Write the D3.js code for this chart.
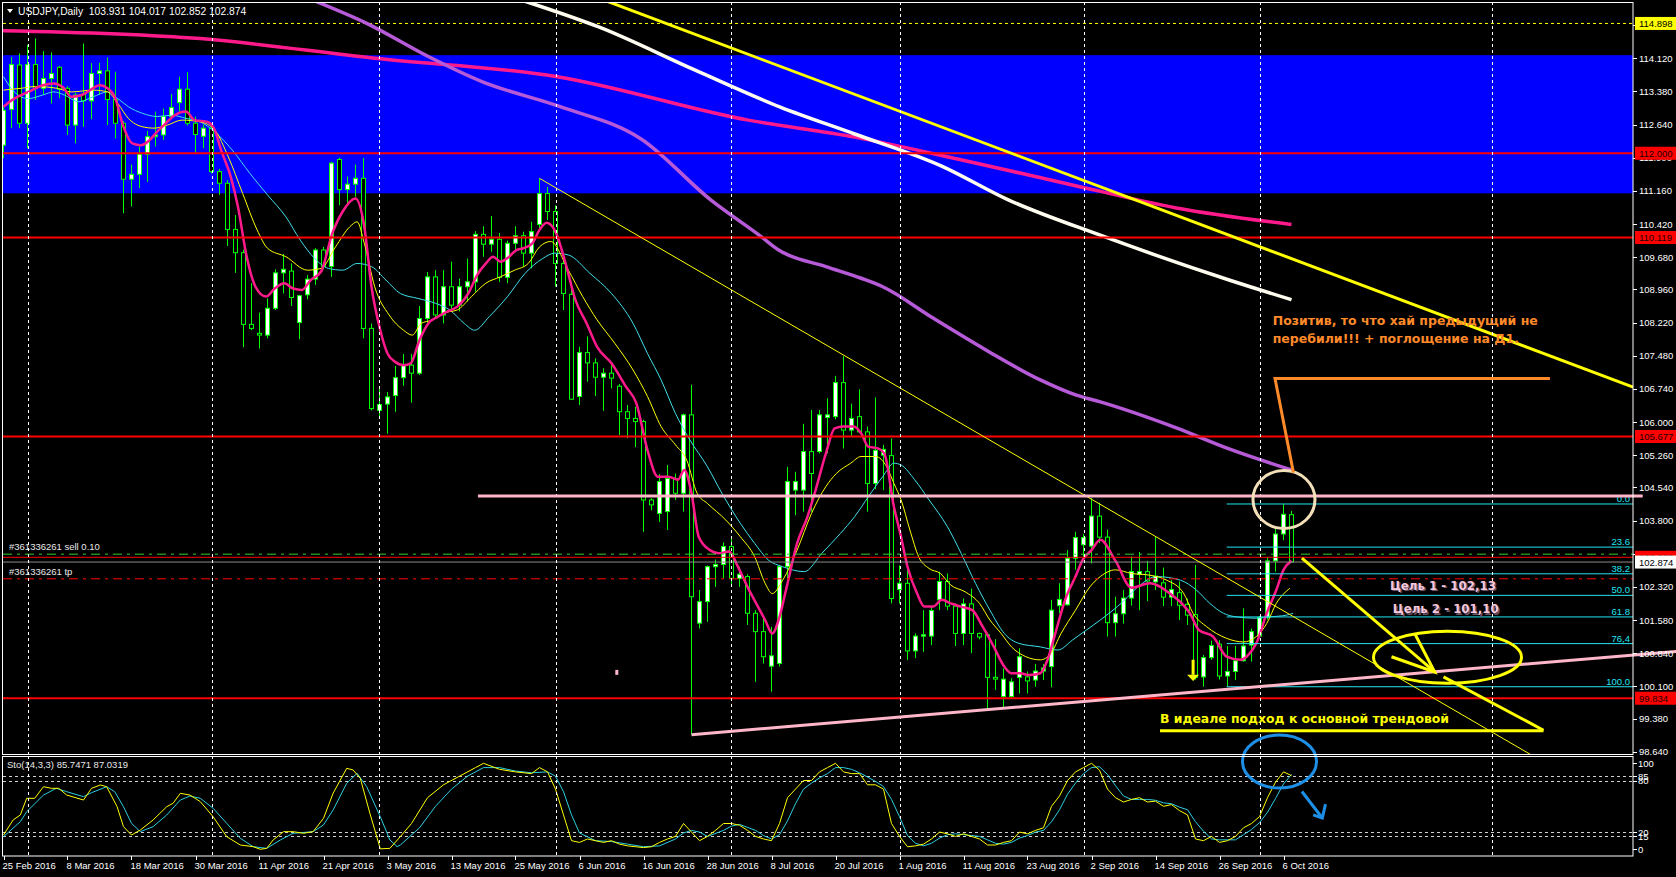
<!DOCTYPE html>
<html>
<head>
<meta charset="utf-8">
<script src="https://cdn.jsdelivr.net/npm/d3@7"></script>
<style>
  html, body { margin: 0; padding: 0; background: #000; }
  svg { display: block; }
  text { font-family: "Liberation Sans", Arial, sans-serif; }
</style>
</head>
<body>
<svg id="chart" width="1676" height="877"></svg>
<script>
// ---------------- data (USDJPY daily, bar 0 = 25 Feb 2016) ----------------
const dateLabels = ["25 Feb 2016", "8 Mar 2016", "18 Mar 2016", "30 Mar 2016", "11 Apr 2016", "21 Apr 2016",
  "3 May 2016", "13 May 2016", "25 May 2016", "6 Jun 2016", "16 Jun 2016", "28 Jun 2016", "8 Jul 2016",
  "20 Jul 2016", "1 Aug 2016", "11 Aug 2016", "23 Aug 2016", "2 Sep 2016", "14 Sep 2016", "26 Sep 2016", "6 Oct 2016"];
const dateLabelBars = [0, 8, 16, 24, 32, 40, 48, 56, 64, 72, 80, 88, 96, 104, 112, 120, 128, 136, 144, 152, 160];
const separatorBars = [3, 26, 47, 69, 91, 112, 135, 157, 186];

const opens = [
  112.18,112.98,113.97,112.67,113.98,113.45,113.67,113.92,113.45,112.63,
  113.32,113.17,113.78,113.84,113.20,112.67,111.42,111.53,111.98,112.37,
  112.41,112.82,113.13,113.43,112.67,112.38,112.56,111.59,111.33,110.30,
  109.78,108.18,107.98,107.94,108.54,109.33,109.37,108.22,108.84,109.19,
  109.84,109.47,111.86,111.19,111.31,111.44,108.09,106.26,106.40,106.59,
  106.99,107.27,107.09,108.31,109.24,108.39,109.02,108.61,109.02,109.13,
  110.19,109.97,110.08,109.23,109.99,110.16,109.77,110.41,111.10,110.70,
  109.54,108.85,106.57,107.55,107.32,107.00,107.09,106.80,106.23,106.08,
  106.01,104.26,103.96,104.00,104.74,104.41,106.16,101.51,101.99,102.77,
  102.82,103.22,102.51,102.55,101.73,101.32,100.55,100.61,102.77,104.48,
  104.48,105.34,105.34,106.10,106.12,106.88,105.82,106.12,105.78,104.63,
  105.26,105.25,102.26,102.40,100.89,101.22,101.22,102.03,102.44,101.89,
  101.28,101.94,101.28,101.25,100.30,99.87,99.87,100.30,100.31,100.24,
  100.44,100.54,101.90,101.92,102.96,103.26,103.23,103.90,103.43,101.52,
  101.72,102.07,102.60,102.66,102.43,102.41,102.09,102.19,101.93,101.70,
  100.31,100.74,101.04,100.33,100.43,100.67,101.02,101.22,101.64,102.90,
  103.50,103.931];
const highs = [
  113.04,114.15,114.23,114.42,114.56,114.28,114.25,113.95,113.50,113.35,
  114.45,114.01,114.02,114.14,113.82,112.72,111.75,112.15,112.50,112.93,
  113.00,113.32,113.71,113.81,112.82,112.64,112.62,111.65,111.40,110.62,
  109.85,109.10,108.44,108.76,109.41,109.75,109.54,108.84,109.28,109.88,
  109.91,111.81,111.90,111.48,111.75,111.89,108.20,106.80,106.67,107.25,
  107.52,107.52,108.59,109.35,109.39,109.39,109.58,109.20,109.65,110.26,
  110.37,110.60,110.22,110.05,110.37,110.25,110.47,111.44,111.25,110.84,
  109.60,109.13,107.68,107.91,107.42,107.20,107.27,106.85,106.38,106.34,
  106.05,104.30,104.84,105.04,104.85,106.19,106.83,102.25,102.80,102.93,
  103.31,103.42,102.77,102.60,101.80,101.65,101.43,102.81,105.00,104.89,
  105.96,106.27,106.27,106.53,107.03,107.47,106.41,106.73,105.90,106.55,
  105.49,105.63,102.80,102.84,101.28,101.80,101.89,102.66,102.62,101.95,
  102.06,102.28,101.30,101.30,101.15,100.50,100.28,100.95,100.43,100.60,
  100.60,102.03,102.40,103.14,103.55,103.50,104.30,104.20,103.60,102.10,
  102.25,103.00,103.10,102.90,103.44,102.75,102.47,102.44,102.06,102.81,
  100.80,101.12,101.13,101.00,101.00,101.84,101.39,101.67,102.99,103.63,
  104.17,104.017];
const lows = [
  111.89,112.56,112.56,112.11,113.19,113.30,113.11,113.23,112.41,112.22,
  112.59,112.76,113.30,112.63,112.33,110.66,110.81,111.22,111.36,112.15,
  112.30,112.78,112.93,112.62,112.01,112.11,111.55,111.07,109.93,109.33,
  107.67,108.05,107.64,107.87,108.50,108.87,108.59,107.85,108.74,109.06,
  109.41,109.24,110.84,110.88,111.03,107.87,106.26,106.10,105.74,106.23,
  106.81,106.43,107.05,108.20,108.30,108.20,108.50,108.47,108.69,108.91,
  109.69,109.80,109.13,109.10,109.83,109.47,109.43,110.32,110.51,109.02,
  108.50,106.50,106.38,106.90,106.58,106.25,106.75,105.71,105.64,105.44,
  103.55,104.03,103.77,103.59,104.26,104.00,99.02,101.39,101.54,102.32,
  102.51,102.36,102.32,101.47,100.20,100.61,99.98,100.54,102.47,103.92,
  104.00,104.00,105.30,105.30,106.06,105.41,105.67,105.75,104.00,104.50,
  104.48,101.95,101.95,100.69,100.73,100.87,101.02,101.80,101.80,101.00,
  101.02,100.84,101.15,99.57,100.02,99.64,99.85,99.94,99.94,100.09,
  100.24,100.08,101.73,101.90,102.70,102.92,102.84,103.30,101.21,101.21,
  101.50,101.90,101.80,102.00,102.25,101.89,101.89,101.58,101.47,100.25,
  100.09,100.69,100.25,100.09,100.24,100.65,100.65,101.21,101.59,102.66,
  103.36,102.852];
const closes = [
  112.96,113.98,112.67,113.98,113.45,113.67,113.78,113.43,112.63,113.30,
  113.17,113.78,113.84,113.20,112.67,111.42,111.53,111.98,112.37,112.41,
  112.82,113.02,113.43,112.67,112.42,112.56,111.59,111.33,110.30,109.78,
  108.18,108.09,107.94,108.54,109.33,109.41,108.78,108.82,109.19,109.84,
  109.47,111.78,111.19,111.31,111.44,108.09,106.30,106.39,106.56,106.99,
  107.27,107.09,108.31,109.24,108.39,109.02,108.61,109.02,109.13,110.19,
  109.97,110.08,109.23,109.99,110.16,109.77,110.25,111.10,110.70,109.54,
  108.87,106.51,107.55,107.32,107.00,107.09,106.98,106.23,106.08,106.01,
  104.26,104.15,104.67,104.74,104.41,106.16,102.10,101.99,102.77,102.82,
  103.22,102.51,102.60,101.73,101.32,100.76,100.78,102.77,104.67,104.67,
  105.34,104.85,106.16,106.16,106.88,105.82,106.08,105.78,104.63,105.37,
  105.39,102.06,102.40,100.89,101.22,101.25,101.79,102.44,101.89,101.28,
  101.94,101.28,101.20,100.30,100.26,100.26,100.20,100.76,100.22,100.44,
  100.51,101.80,102.04,102.96,103.42,103.42,103.90,103.43,101.52,101.72,
  102.07,102.66,102.66,102.45,102.56,102.09,102.26,101.91,101.69,100.30,
  100.74,101.01,100.33,100.43,100.67,101.00,101.32,101.64,102.90,103.50,
  103.94,102.874];

// moving averages: [bar, price]
const maLongPink = [[-1,114.74],[24.6,114.56],[46.4,114.12],[69.2,113.71],[93.1,112.74],[106.4,112.36],
  [119.8,111.85],[133.2,111.31],[146.6,110.78],[161,110.41]];
const maViolet = [[38.9,115.40],[45.4,114.90],[53.1,114.16],[59.8,113.60],[69.6,113.04],[79.7,112.32],
  [88.4,110.96],[94.7,110.14],[96.9,109.84],[102.8,109.47],[107.2,109.21],[109.9,109.02],[116.2,108.32],
  [122.8,107.61],[129.6,106.94],[134.1,106.60],[137.1,106.45],[146.6,105.87],[153.2,105.40],[161,104.93]];
const maWhite = [[65.1,115.40],[74.4,114.82],[86.4,113.86],[97.1,113.03],[106.4,112.43],[117.2,111.72],
  [125.6,110.96],[137.1,110.17],[153.2,109.17],[161,108.73]];
const maFast = [[0,113.04],[1.35,113.22],[3.1,113.37],[4.9,113.52],[6.3,113.56],[7.4,113.48],[8.5,113.26],
  [9.8,113.30],[12.1,113.52],[13,113.45],[13.9,113.26],[15,112.59],[16.1,112.22],[17.2,112.18],[18.3,112.30],
  [19.2,112.48],[20.3,112.67],[21.4,112.85],[22.8,112.93],[23.9,112.74],[25.5,112.70],[26.4,112.52],
  [27.2,112.07],[28.4,111.48],[29.3,110.81],[30.4,109.69],[31.5,109.02],[32.8,108.80],[33.9,108.98],
  [35.1,109.10],[36.2,108.98],[37.3,108.95],[38.4,109.17],[39.7,109.36],[41.1,110.21],[42.4,110.70],
  [44,110.99],[45.1,110.36],[46,109.02],[47.1,108.05],[48,107.53],[48.9,107.35],[50,107.27],[50.9,107.31],
  [52,107.83],[53.1,108.20],[54.3,108.35],[55.4,108.46],[56.7,108.57],[58.1,108.87],[59.2,109.28],
  [60.3,109.54],[61.2,109.69],[62.1,109.58],[63.2,109.69],[64.1,109.84],[65,109.88],[66.1,109.99],
  [67,110.29],[67.9,110.45],[69.1,110.21],[70.2,109.58],[71.5,108.72],[72.9,108.20],[74.2,107.68],
  [76,107.31],[77.8,106.79],[79.1,106.42],[80.5,105.37],[81.8,104.78],[83.1,104.78],[84.3,104.71],
  [85.1,104.93],[86,104.41],[86.9,103.44],[88.3,103.14],[89.4,103.07],[90.7,103.11],[91.8,102.77],
  [93,102.32],[94.3,101.88],[95.2,101.58],[96.1,101.28],[97,101.65],[97.9,102.32],[99.2,103.29],
  [100.5,103.89],[101.4,104.41],[102.8,105.30],[103.9,105.86],[105,105.90],[106.3,105.90],[107.2,105.75],
  [108.1,105.45],[109.3,105.41],[110.1,105.30],[111.3,104.11],[112.1,103.51],[113,102.77],[114.2,102.17],
  [115.1,101.88],[116.2,101.88],[117.3,102.03],[118.4,101.95],[119.7,101.88],[121.1,101.80],[122.4,101.43],
  [123.8,100.98],[125.1,100.54],[126,100.39],[127.1,100.39],[128.2,100.35],[129.6,100.39],[130.5,100.69],
  [131.6,101.36],[132.7,102.03],[134,102.55],[134.9,102.92],[136,103.14],[137.1,103.37],[139,102.90],
  [141,102.30],[143.3,102.40],[144.6,102.32],[145.8,102.17],[147.5,101.91],[148.3,101.73],[149.4,101.36],
  [151.2,101.21],[152.9,100.76],[154.6,100.69],[155.8,100.84],[156.6,101.06],[157.9,101.73],[159.1,102.25],
  [160,102.70],[161,102.90]];
const maMid = [[0,113.41],[2.2,113.45],[4,113.49],[6.7,113.45],[8.5,113.37],[11.2,113.41],[13,113.37],
  [14.3,113.11],[15.6,112.78],[17.4,112.59],[18.8,112.56],[20.5,112.63],[22.3,112.74],[24.6,112.70],
  [26.4,112.52],[28.1,111.92],[29.9,111.10],[31.7,110.29],[33,109.88],[35.3,109.69],[38,109.39],
  [39.7,109.43],[41.5,109.91],[43.3,110.36],[44.2,110.47],[45.1,109.99],[46.4,109.02],[48.2,108.39],
  [50,108.05],[51.1,107.94],[52.2,108.20],[53.6,108.28],[54.9,108.43],[56.7,108.50],[58.5,108.80],
  [60.3,109.10],[62.1,109.24],[63.9,109.39],[65.6,109.54],[67,109.91],[68.4,110.03],[70.6,109.39],
  [72.4,108.80],[74.2,108.28],[76.4,107.76],[78.7,107.16],[80.5,106.57],[82.2,105.90],[84,105.49],
  [85.4,105.15],[86.7,104.41],[88,104.18],[90.3,103.81],[92.1,103.44],[93.9,102.99],[95.2,102.40],
  [96.1,102.17],[97.4,102.47],[99.2,103.14],[101,103.96],[102.8,104.56],[104.1,104.85],[105.9,105.08],
  [107.2,105.23],[109,105.23],[110.4,105.00],[111.3,104.63],[112.2,104.26],[113.3,103.59],[114.4,102.99],
  [115.7,102.73],[117.1,102.62],[118.4,102.36],[120.2,102.21],[122,101.95],[123.3,101.58],[124.7,101.28],
  [126,100.98],[127.8,100.76],[129.6,100.69],[130.9,100.83],[132.2,101.28],[134,101.80],[135.8,102.32],
  [137.1,102.55],[139,102.70],[141,102.62],[143.3,102.58],[145.4,102.47],[147.5,102.18],[148.7,101.73],
  [150.4,101.43],[152.9,101.17],[155,101.09],[156.6,101.21],[157.9,101.50],[159.1,101.95],[160.8,102.29]];
const maSlow = [[0,113.71],[1.35,113.37],[3.1,113.22],[4.9,113.30],[6.3,113.37],[7.6,113.30],[9.4,113.15],
  [11.2,113.26],[13,113.37],[14.3,113.22],[15.6,113.04],[17.4,112.89],[19.2,112.82],[21,112.85],
  [22.8,112.78],[24.6,112.70],[26.4,112.48],[28.6,112.07],[30.8,111.55],[33,111.07],[35.3,110.58],
  [37.1,110.06],[38.9,109.65],[40.6,109.43],[42.4,109.39],[44.2,109.54],[46,109.47],[47.8,109.17],
  [49.6,108.87],[51.8,108.76],[54,108.65],[55.8,108.50],[57.6,108.20],[58.9,108.05],[60.7,108.35],
  [63,108.80],[65.2,109.32],[67.4,109.65],[68.9,109.77],[70.6,109.73],[73.3,109.32],[76,108.87],
  [78.7,108.20],[80.5,107.53],[82.2,106.94],[84,106.19],[85.8,105.60],[88,105.00],[89.8,104.41],
  [92.1,103.74],[93.9,103.29],[95.6,102.92],[97.4,102.77],[100.1,102.66],[102.3,103.07],[104.6,103.51],
  [106.4,103.89],[108.1,104.33],[109.9,104.78],[111.3,105.08],[112.2,105.04],[113.9,104.71],[115.7,104.26],
  [118,103.66],[119.7,103.07],[121.5,102.40],[123.3,101.80],[125.1,101.28],[126.9,101.06],[129.6,100.98],
  [131.8,100.91],[133.6,101.13],[135.4,101.36],[137.1,101.58],[140,102.00],[142,102.35],[144.1,102.55],
  [147.1,102.47],[149.1,102.25],[150.8,101.95],[152.5,101.73],[154.1,101.65],[156.6,101.62],[158.3,101.65],
  [160.4,101.69],[161.2,101.73]];

// stochastic (14,3,3): [bar, value]
const stochMain = [[0,16.6],[1.2,34.1],[2.1,39.9],[2.9,59.3],[3.9,59.3],[5,72.8],[6,70.9],[6.9,70.9],[7.9,63.1],
  [10,57.3],[11,70.9],[12.1,74.8],[12.9,72.8],[14.2,49.5],[15,26.3],[16,16.6],[17.1,22.4],[18.7,34.1],
  [20.4,49.5],[21.2,53.5],[22.1,65.1],[23.3,63.1],[24.6,55.4],[26.2,37.9],[27.9,14.7],[29.6,5],[31.2,3.1],
  [32.1,0],[32.9,1.1],[33.7,10.8],[35,20.5],[36.2,20.5],[37.5,18.6],[38.7,20.5],[40,36],[41.2,65.1],
  [42.9,94.2],[43.7,92.2],[44.6,82.5],[45.8,41.9],[47.1,0.5],[48.3,1.1],[49.6,14.7],[51,30],[53,60],
  [55,75],[57,85],[59,95],[60,100],[62,93],[64,90],[66,88],[67,95],[68,90],[69,70],[70,40],[71,10],[72,8],
  [73,12],[74,10],[75,8],[76,10],[77,6],[78,4],[79,3],[80,2],[81,3],[82,8],[83,12],[84,15],[85,30],[86,20],
  [87,10],[88,15],[89,22],[90,30],[91,30],[92,28],[93,22],[94,15],[95,12],[96,10],[97,30],[98,60],[99,70],
  [100,80],[101,80],[102,90],[103,95],[104,100],[105,90],[106,88],[107,88],[108,75],[109,75],[110,70],
  [111,30],[112,15],[113,3],[114,4],[115,6],[116,12],[117,20],[118,18],[119,15],[120,18],[121,15],[122,12],
  [123,5],[124,5],[125,8],[126,10],[127,20],[128,18],[129,22],[130,25],[131,50],[132,62],[133,80],[134,90],
  [135,95],[136,100],[137,92],[138,70],[139,60],[140,55],[141,58],[142,60],[143,55],[144,56],[145,50],
  [146,52],[147,45],[148,40],[149,12],[150,10],[151,15],[152,8],[153,10],[154,15],[155,25],[156,30],
  [157,38],[158,60],[159,78],[160,90],[161,85.75]];
const stochSignal = [[0,14.7],[2.1,32.1],[2.9,43.7],[5,63.1],[6.6,70.9],[7.9,67],[10,61.2],[11,65.8],
  [12.9,72.8],[13.9,67],[15,49.5],[16,30.2],[17.1,20.5],[18.7,26.3],[20.4,39.9],[22.1,57.3],[23.3,61.9],
  [24.6,59.3],[26.2,47.7],[27.9,30.2],[29.6,12.8],[31.2,3.1],[32.9,1.1],[34.6,10.8],[36.2,18.6],[38.7,20.5],
  [40,28.3],[41.2,45.7],[42.9,76.7],[44.2,88.4],[45.4,72.8],[47.1,37.9],[48.3,10.8],[49.2,3.1],[49.6,5],
  [52,25],[54,50],[56,70],[58,85],[60,95],[62,95],[64,91],[66,89],[68,90],[69,85],[70,67],[71,40],[72,19],
  [74,10],[76,9],[78,6],[80,3],[82,4],[84,12],[85,19],[86,22],[87,20],[88,15],[90,22],[91,27],[92,29],
  [94,22],[95,16],[96,12],[97,17],[98,33],[99,53],[100,70],[101,77],[102,83],[103,88],[104,95],[105,95],
  [106,93],[107,89],[108,84],[109,79],[110,73],[111,58],[112,38],[113,16],[114,7],[115,4],[116,7],[117,13],
  [118,17],[119,18],[120,17],[121,16],[122,15],[123,11],[124,7],[125,6],[126,8],[127,13],[128,16],[129,20],
  [130,22],[131,32],[132,46],[133,64],[134,77],[135,88],[136,95],[137,96],[138,87],[139,74],[140,62],
  [141,58],[142,58],[143,58],[144,57],[145,54],[146,53],[147,49],[148,46],[149,32],[150,21],[151,12],
  [152,11],[153,11],[154,11],[155,17],[156,23],[157,31],[158,43],[159,59],[160,76],[161,87.03]];

const priceTicks = [114.860, 114.120, 113.380, 112.640, 111.900, 111.160, 110.420, 109.680, 108.960,
  108.220, 107.480, 106.740, 106.000, 105.260, 104.540, 103.800, 103.060, 102.320, 101.580, 100.840,
  100.100, 99.380, 98.640];
const redLevels = [112.000, 110.119, 105.677, 99.834];
const zoneTop = 114.19, zoneBottom = 111.106;
const dashedHigh = 114.898;
const bidPrice = 102.874;
const hLine103 = 102.98;
const orderPrice = 103.05, tpPrice = 102.50;
const fibHigh = 104.17, fibLow = 100.09, fibStartBar = 152.9;
const fibLevels = [0, 23.6, 38.2, 50, 61.8, 76.4, 100];
const fibLabels = ["0.0", "23.6", "38.2", "50.0", "61.8", "76,4", "100.0"];
const stochLevels = [85, 80, 20, 15];
const stochLabels = [100, 85, 80, 20, 15, 0];

// drawn objects: [bar, price]
const trendThin = [[67, 111.44], [195, 98.15]];
const trendThick = [[75.06, 115.42], [203.7, 106.78]];
const trendPink = [[86, 99.02], [209.1, 100.88]];
const levelPink = [[59.3, 104.35], [204.9, 104.35]];

// ---------------- layout ----------------
const W = 1676, H = 877;
const L = 3, R = 1633, T = 2, MB = 754.5, ST = 756, SB = 856;
const UI = 9.5;   // terminal font size

const svg = d3.select('#chart');
svg.append('rect').attr('width', W).attr('height', H).attr('fill', '#000');

const x = d3.scaleLinear().domain([0, 161]).range([3.5, 1291.5]);
const y = d3.scaleLinear().domain([98.64, 114.12]).range([751.7, 58.3]);
const ys = d3.scaleLinear().domain([0, 100]).range([849.3, 763.3]);

const defs = svg.append('defs');
defs.append('clipPath').attr('id', 'mainClip').append('rect')
  .attr('x', L).attr('y', T).attr('width', R - L).attr('height', MB - T);
defs.append('clipPath').attr('id', 'stoClip').append('rect')
  .attr('x', L).attr('y', ST).attr('width', R - L).attr('height', SB - ST);

const main = svg.append('g').attr('clip-path', 'url(#mainClip)');
const sto = svg.append('g').attr('clip-path', 'url(#stoClip)');

// blue zone
main.append('rect')
  .attr('x', L).attr('width', R - L)
  .attr('y', y(zoneTop)).attr('height', y(zoneBottom) - y(zoneTop))
  .attr('fill', '#0000ff');

// period separators
separatorBars.forEach(b => {
  [[T, MB], [ST, SB]].forEach(([a, c]) => {
    svg.append('line')
      .attr('x1', Math.round(x(b)) + 0.5).attr('x2', Math.round(x(b)) + 0.5)
      .attr('y1', a).attr('y2', c)
      .attr('stroke', '#fff').attr('stroke-width', 1).attr('stroke-dasharray', '3,3');
  });
});

// horizontal levels
main.append('line').attr('x1', L).attr('x2', R).attr('y1', y(dashedHigh)).attr('y2', y(dashedHigh))
  .attr('stroke', '#ffff00').attr('stroke-dasharray', '3,3');

const lineGen = d3.line().x(d => x(d[0])).y(d => y(d[1]));
const smooth = d3.line().x(d => x(d[0])).y(d => y(d[1])).curve(d3.curveMonotoneX);

// long moving averages
main.append('path').datum(maLongPink).attr('d', smooth).attr('fill', 'none')
  .attr('stroke', '#ff1a8c').attr('stroke-width', 3.5);
main.append('path').datum(maViolet).attr('d', smooth).attr('fill', 'none')
  .attr('stroke', '#b65ad8').attr('stroke-width', 3.5);
main.append('path').datum(maWhite).attr('d', smooth).attr('fill', 'none')
  .attr('stroke', '#fffdf0').attr('stroke-width', 3.5);

// candles
const idx = d3.range(opens.length);
main.selectAll('line.wick').data(idx).enter().append('line')
  .attr('class', 'wick')
  .attr('x1', i => x(i)).attr('x2', i => x(i))
  .attr('y1', i => y(highs[i])).attr('y2', i => y(lows[i]))
  .attr('stroke', '#00ff00').attr('stroke-width', 1);
main.selectAll('rect.body').data(idx).enter().append('rect')
  .attr('class', 'body')
  .attr('x', i => x(i) - 2).attr('width', 4)
  .attr('y', i => y(Math.max(opens[i], closes[i])))
  .attr('height', i => Math.max(1, Math.abs(y(opens[i]) - y(closes[i]))))
  .attr('fill', i => closes[i] >= opens[i] ? '#fff' : '#000')
  .attr('stroke', '#00ff00').attr('stroke-width', 1);

// fast moving averages
main.append('path').datum(maSlow).attr('d', smooth).attr('fill', 'none')
  .attr('stroke', '#3fe0ea').attr('stroke-width', 1);
main.append('path').datum(maMid).attr('d', smooth).attr('fill', 'none')
  .attr('stroke', '#ffff00').attr('stroke-width', 1);
main.append('path').datum(maFast).attr('d', smooth).attr('fill', 'none')
  .attr('stroke', '#ff1a8c').attr('stroke-width', 2.5);

// red horizontal lines
redLevels.forEach(v => {
  main.append('line').attr('x1', L).attr('x2', R).attr('y1', y(v)).attr('y2', y(v))
    .attr('stroke', '#ff0000').attr('stroke-width', 2);
});
main.append('line').attr('x1', L).attr('x2', R).attr('y1', y(hLine103)).attr('y2', y(hLine103))
  .attr('stroke', '#ff0000').attr('stroke-width', 1);

// order lines
main.append('line').attr('x1', L).attr('x2', R).attr('y1', y(orderPrice)).attr('y2', y(orderPrice))
  .attr('stroke', '#32cd32').attr('stroke-dasharray', '9,5,3,5');
main.append('line').attr('x1', L).attr('x2', R).attr('y1', y(tpPrice)).attr('y2', y(tpPrice))
  .attr('stroke', '#ff0000').attr('stroke-dasharray', '9,5,3,5');
main.append('line').attr('x1', L).attr('x2', R).attr('y1', y(bidPrice)).attr('y2', y(bidPrice))
  .attr('stroke', '#8c8c8c');
main.append('text').attr('x', 9).attr('y', y(orderPrice) - 4).text('#361336261 sell 0.10')
  .attr('fill', '#e8e8e8').attr('font-size', UI);
main.append('text').attr('x', 9).attr('y', y(tpPrice) - 4).text('#361336261 tp')
  .attr('fill', '#e8e8e8').attr('font-size', UI);

// fibonacci
fibLevels.forEach((f, k) => {
  const v = fibHigh - (fibHigh - fibLow) * f / 100;
  main.append('line').attr('x1', x(fibStartBar)).attr('x2', R).attr('y1', y(v)).attr('y2', y(v))
    .attr('stroke', '#22e4f2').attr('stroke-width', 1);
  main.append('text').attr('x', R - 3).attr('y', y(v) - 2).attr('text-anchor', 'end')
    .text(fibLabels[k]).attr('fill', '#22e4f2').attr('font-size', UI);
});

// trend lines
main.append('path').datum(trendThin).attr('d', lineGen).attr('stroke', '#ffff00').attr('stroke-width', 1).attr('fill', 'none');
main.append('path').datum(trendThick).attr('d', lineGen).attr('stroke', '#ffff00').attr('stroke-width', 3).attr('fill', 'none');
svg.append('path').datum(levelPink).attr('d', lineGen).attr('stroke', '#ffb6c8').attr('stroke-width', 3).attr('fill', 'none');
svg.append('path').datum(trendPink).attr('d', lineGen).attr('stroke', '#ffb6c8').attr('stroke-width', 3).attr('fill', 'none');

// small marks
main.append('rect').attr('x', x(76.6) - 1).attr('y', y(100.40) - 3).attr('width', 3).attr('height', 5).attr('fill', '#ffb6c8');
const arrowX = x(148.7);
main.append('line').attr('x1', arrowX).attr('x2', arrowX).attr('y1', y(100.69)).attr('y2', y(100.36))
  .attr('stroke', '#ffff00').attr('stroke-width', 3);
main.append('path')
  .attr('d', `M${arrowX - 6},${y(100.36)} L${arrowX + 6},${y(100.36)} L${arrowX},${y(100.22)} Z`)
  .attr('fill', '#ffff00');

// ---------------- annotations ----------------
const ann = svg.append('g');
const noteFont = '"DejaVu Sans", sans-serif';
// beige circle around the last high
ann.append('ellipse').attr('cx', x(160.06)).attr('cy', y(104.27)).attr('rx', 31).attr('ry', 29)
  .attr('fill', 'none').attr('stroke', '#f3dfb8').attr('stroke-width', 3);
// orange leader
ann.append('path').datum([[161.24, 104.87], [158.94, 106.97], [193.3, 106.97]]).attr('d', lineGen)
  .attr('fill', 'none').attr('stroke', '#ff8a2a').attr('stroke-width', 3);
const orange = ann.append('text').attr('fill', '#ff8a2a').attr('font-weight', 'bold')
  .attr('font-size', 12.5).style('font-family', noteFont);
orange.append('tspan').attr('x', x(158.65)).attr('y', y(108.17)).text('Позитив, то что хай предыдущий не');
orange.append('tspan').attr('x', x(158.65)).attr('y', y(107.76)).text('перебили!!! + поглощение на Д1.');

// targets
[['Цель 1 - 102,13', 173.3, 102.25], ['Цель 2 - 101,10', 173.65, 101.73]].forEach(([t, b, v]) => {
  ann.append('text').attr('x', x(b) + 1.5).attr('y', y(v) + 1.5).text(t)
    .attr('fill', '#6c5266').attr('font-weight', 'bold').attr('font-size', 11.8)
    .style('font-family', noteFont);
  ann.append('text').attr('x', x(b)).attr('y', y(v)).text(t)
    .attr('fill', '#f7c8dc').attr('font-weight', 'bold').attr('font-size', 11.8)
    .style('font-family', noteFont);
});

// yellow arrow, ellipse and note
const yel = '#ffff00';
ann.append('path').datum([[162.3, 102.96], [178.9, 100.42]]).attr('d', lineGen)
  .attr('stroke', yel).attr('stroke-width', 3).attr('fill', 'none');
ann.append('path').datum([[173.5, 100.76], [178.9, 100.42], [176.4, 101.28]]).attr('d', lineGen)
  .attr('stroke', yel).attr('stroke-width', 3).attr('fill', 'none');
ann.append('path').datum([[180, 100.31], [192.5, 99.12]]).attr('d', lineGen)
  .attr('stroke', yel).attr('stroke-width', 3).attr('fill', 'none');
ann.append('path').datum([[144.56, 99.11], [192.5, 99.11]]).attr('d', lineGen)
  .attr('stroke', yel).attr('stroke-width', 3).attr('fill', 'none');
ann.append('ellipse').attr('cx', x(180.5)).attr('cy', y(100.75)).attr('rx', 74).attr('ry', 26)
  .attr('fill', 'none').attr('stroke', yel).attr('stroke-width', 3);
ann.append('text').attr('x', x(144.56)).attr('y', y(99.27)).text('В идеале подход к основной трендовой')
  .attr('fill', yel).attr('font-weight', 'bold').attr('font-size', 12.4)
  .style('font-family', noteFont);

// ---------------- stochastic panel ----------------
stochLevels.forEach(v => {
  sto.append('line').attr('x1', L).attr('x2', R).attr('y1', Math.round(ys(v)) + 0.5).attr('y2', Math.round(ys(v)) + 0.5)
    .attr('stroke', '#d0d0d0').attr('stroke-dasharray', '3,3');
});
const sLine = d3.line().x(d => x(d[0])).y(d => ys(d[1]));
sto.append('path').datum(stochSignal).attr('d', sLine).attr('fill', 'none').attr('stroke', '#2ccfe0').attr('stroke-width', 1);
sto.append('path').datum(stochMain).attr('d', sLine).attr('fill', 'none').attr('stroke', '#ffff00').attr('stroke-width', 1);
svg.append('text').attr('x', 7).attr('y', 768).text('Sto(14,3,3) 85.7471 87.0319')
  .attr('fill', '#e8e8e8').attr('font-size', UI);

// blue ellipse + arrow on the stochastic
ann.append('ellipse').attr('cx', x(159.5)).attr('cy', ys(102)).attr('rx', 37).attr('ry', 26.5)
  .attr('fill', 'none').attr('stroke', '#1e8fe6').attr('stroke-width', 3);
ann.append('path').datum([[162.3, 67.2], [164.85, 36.4]]).attr('d', sLine)
  .attr('fill', 'none').attr('stroke', '#1e8fe6').attr('stroke-width', 3);
ann.append('path').datum([[163.7, 40.1], [164.85, 36.4], [165.25, 52.6]]).attr('d', sLine)
  .attr('fill', 'none').attr('stroke', '#1e8fe6').attr('stroke-width', 3);

// ---------------- frames & axes ----------------
const frame = svg.append('g').attr('fill', 'none').attr('stroke', '#fff').attr('stroke-width', 1);
frame.append('rect').attr('x', 2.5).attr('y', 2.5).attr('width', R - 2.5).attr('height', MB - 2.5);
frame.append('rect').attr('x', 2.5).attr('y', ST + 0.5).attr('width', R - 2.5).attr('height', SB - ST - 0.5);

// price axis
priceTicks.forEach(v => {
  svg.append('line').attr('x1', R).attr('x2', R + 4).attr('y1', Math.round(y(v)) + 0.5).attr('y2', Math.round(y(v)) + 0.5)
    .attr('stroke', '#fff');
  svg.append('text').attr('x', R + 6).attr('y', y(v) + 3.5).text(v.toFixed(3))
    .attr('fill', '#fff').attr('font-size', UI);
});

function priceTag(v, label, bg, fg) {
  svg.append('rect').attr('x', R + 2).attr('y', y(v) - 6.5).attr('width', W - R - 2).attr('height', 13).attr('fill', bg);
  svg.append('text').attr('x', R + 6).attr('y', y(v) + 3.5).text(label).attr('fill', fg).attr('font-size', UI);
}
priceTag(dashedHigh, '114.898', '#ffff00', '#000');
redLevels.forEach(v => priceTag(v, v.toFixed(3), '#ff0000', '#200000'));
priceTag(hLine103, '102.980', '#ff0000', '#200000');
priceTag(bidPrice, '102.874', '#ffffff', '#000');

// stochastic axis
stochLabels.forEach(v => {
  svg.append('line').attr('x1', R).attr('x2', R + 4).attr('y1', Math.round(ys(v)) + 0.5).attr('y2', Math.round(ys(v)) + 0.5)
    .attr('stroke', '#fff');
  svg.append('text').attr('x', R + 5).attr('y', ys(v) + 3.5).text(v)
    .attr('fill', '#fff').attr('font-size', UI);
});

// time axis
dateLabelBars.forEach((b, k) => {
  svg.append('line').attr('x1', Math.round(x(b)) + 0.5).attr('x2', Math.round(x(b)) + 0.5)
    .attr('y1', SB).attr('y2', SB + 4).attr('stroke', '#fff');
  svg.append('text').attr('x', x(b) - 1).attr('y', 869).text(dateLabels[k])
    .attr('fill', '#fff').attr('font-size', UI);
});

// header
svg.append('path').attr('d', 'M7,9 L13,9 L10,13 Z').attr('fill', '#fff');
svg.append('text').attr('x', 18).attr('y', 14.5).text('USDJPY,Daily  103.931 104.017 102.852 102.874')
  .attr('fill', '#fff').attr('font-size', 10.3).style('white-space', 'pre');
</script>
</body>
</html>
